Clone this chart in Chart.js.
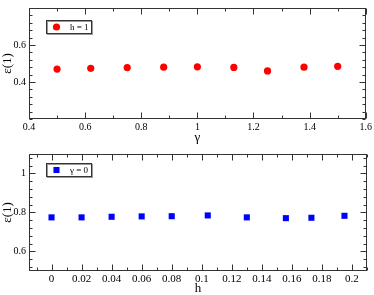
<!DOCTYPE html>
<html>
<head>
<meta charset="utf-8">
<script src="https://cdn.jsdelivr.net/npm/chart.js@4"></script>
<style>
  html, body { margin: 0; padding: 0; background: #fff; }
  body { width: 374px; height: 295px; position: relative; overflow: hidden; }
  .box { position: absolute; left: 0; width: 374px; }
  #top { top: -1px; height: 146px; }
  #bot { top: 145px; height: 150px; }
</style>
</head>
<body>
<div class="box" id="top"><canvas id="c1"></canvas></div>
<div class="box" id="bot"><canvas id="c2"></canvas></div>
<script>
// top panel: eps(1) vs gamma at h = 1
const gammaVals = [0.5, 0.62, 0.75, 0.88, 1.0, 1.13, 1.25, 1.38, 1.5];
const epsGamma = [0.470, 0.474, 0.478, 0.480, 0.482, 0.479, 0.460, 0.480, 0.485];
const gammaTicks = [0.4, 0.6, 0.8, 1.0, 1.2, 1.4, 1.6];
const epsTicksTop = [0.4, 0.6];

// bottom panel: eps(1) vs h at gamma = 0
const hVals = [0, 0.02, 0.04, 0.06, 0.08, 0.104, 0.13, 0.156, 0.173, 0.195];
const epsH = [0.775, 0.775, 0.778, 0.780, 0.781, 0.785, 0.775, 0.771, 0.773, 0.783];
const hTicks = [0, 0.02, 0.04, 0.06, 0.08, 0.1, 0.12, 0.14, 0.16, 0.18, 0.2];
const epsTicksBot = [0.6, 0.8, 1.0];

const serif = "'Liberation Serif', 'DejaVu Serif', serif";
const axisCol = '#333';

function fmt(v) {
    return String(Math.round(v * 1000) / 1000);
}

// frame with inward major/minor ticks on all four sides
const frameTicks = {
    id: 'frameTicks',
    afterDraw(chart, args, opts) {
        const { ctx, chartArea: a, scales } = chart;
        const x = scales.x, y = scales.y;
        const L = Math.round(a.left) + 0.5, R = Math.round(a.right) - 0.5;
        const T = Math.round(a.top) + 0.5, B = Math.round(a.bottom) - 0.5;
        ctx.save();
        ctx.strokeStyle = axisCol;
        ctx.lineWidth = 1;
        ctx.strokeRect(L, T, R - L, B - T);
        ctx.beginPath();
        const isMajor = (list, v) => list.some(t => Math.abs(t.value - v) < 1e-9);
        // x ticks
        for (let v = Math.ceil(x.min / opts.xMinor - 1e-9) * opts.xMinor; v <= x.max + 1e-9; v += opts.xMinor) {
            const px = Math.round(x.getPixelForValue(v)) + 0.5;
            const len = isMajor(x.ticks, v) ? 6 : 3;
            ctx.moveTo(px, B); ctx.lineTo(px, B - len);
            ctx.moveTo(px, T); ctx.lineTo(px, T + len);
        }
        // y ticks
        for (let v = Math.ceil(y.min / opts.yMinor - 1e-9) * opts.yMinor; v <= y.max + 1e-9; v += opts.yMinor) {
            const py = Math.round(y.getPixelForValue(v)) + 0.5;
            const len = isMajor(y.ticks, v) ? 6 : 3;
            ctx.moveTo(L, py); ctx.lineTo(L + len, py);
            ctx.moveTo(R, py); ctx.lineTo(R - len, py);
        }
        ctx.stroke();
        ctx.restore();
    }
};

// small boxed legend inside the plot area
const boxLegend = {
    id: 'boxLegend',
    afterDraw(chart, args, opts) {
        const { ctx, chartArea: a } = chart;
        const ds = chart.data.datasets[0];
        const bx = a.left + opts.dx, by = a.top + opts.dy;
        const w = opts.w, h = opts.h;
        ctx.save();
        ctx.fillStyle = '#fff';
        ctx.fillRect(bx, by, w, h);
        ctx.strokeStyle = '#999';
        ctx.lineWidth = 1;
        ctx.strokeRect(bx + 1.5, by + 1.5, w, h);
        ctx.strokeStyle = axisCol;
        ctx.strokeRect(bx + 0.5, by + 0.5, w, h);
        Chart.helpers.drawPoint(ctx, {
            pointStyle: ds.pointStyle,
            radius: ds.pointRadius,
            borderWidth: 0
        }, bx + 10.5, by + h / 2 + 0.5);
        ctx.fillStyle = ds.backgroundColor;
        ctx.fill();
        ctx.fillStyle = '#000';
        ctx.font = '9px ' + serif;
        ctx.textBaseline = 'middle';
        ctx.fillText(ds.label, bx + 24, by + h / 2 + 1);
        ctx.restore();
    }
};

function makeChart(id, o) {
    return new Chart(document.getElementById(id), {
        type: 'scatter',
        data: {
            datasets: [{
                label: o.label,
                data: o.xs.map((v, i) => ({ x: v, y: o.ys[i] })),
                pointStyle: o.style,
                pointRadius: o.radius,
                pointHoverRadius: o.radius,
                backgroundColor: o.color,
                borderColor: o.color,
                borderWidth: 0
            }]
        },
        options: {
            responsive: true,
            maintainAspectRatio: false,
            animation: false,
            layout: { padding: { top: o.padTop, right: 7, left: 0, bottom: 0 } },
            plugins: {
                legend: { display: false },
                tooltip: { enabled: false },
                frameTicks: { xMinor: o.xMinor, yMinor: o.yMinor },
                boxLegend: { dx: 17, dy: o.legDy, w: 45, h: 13 }
            },
            scales: {
                x: {
                    type: 'linear',
                    min: o.xMin, max: o.xMax,
                    afterBuildTicks: s => { s.ticks = o.xTicks.map(v => ({ value: v })); },
                    afterFit: s => { s.height = o.xHeight; },
                    grid: { display: false, drawTicks: false },
                    border: { display: false },
                    ticks: {
                        autoSkip: false, maxRotation: 0, padding: 2,
                        color: '#000', font: { family: serif, size: o.xFont },
                        callback: v => fmt(v)
                    },
                    title: {
                        display: true, text: o.xTitle, color: '#000',
                        font: { family: serif, size: 13 },
                        padding: { top: 0, bottom: o.xTitlePad }
                    }
                },
                y: {
                    type: 'linear',
                    min: o.yMin, max: o.yMax,
                    afterBuildTicks: s => { s.ticks = o.yTicks.map(v => ({ value: v })); },
                    afterFit: s => { s.width = 29; },
                    grid: { display: false, drawTicks: false },
                    border: { display: false },
                    ticks: {
                        padding: 3,
                        color: '#000', font: { family: serif, size: 10 },
                        callback: v => fmt(v)
                    },
                    title: {
                        display: true, text: 'ε(1)', color: '#000',
                        font: { family: serif, size: 13 },
                        padding: { top: 0, bottom: 0 }
                    }
                }
            }
        },
        plugins: [frameTicks, boxLegend]
    });
}

makeChart('c1', {
    label: 'h = 1', xs: gammaVals, ys: epsGamma,
    style: 'circle', radius: 3.6, color: '#ff0000',
    xMin: 0.4, xMax: 1.6, yMin: 0.2, yMax: 0.8,
    xTicks: gammaTicks, yTicks: epsTicksTop,
    xMinor: 0.1, yMinor: 0.04, xFont: 10,
    xTitle: 'γ', xTitlePad: 0, xHeight: 26, padTop: 0, legDy: 12
});

makeChart('c2', {
    label: 'γ = 0', xs: hVals, ys: epsH,
    style: 'rect', radius: 4.3, color: '#0000ff',
    xMin: -0.015, xMax: 0.21, yMin: 0.5, yMax: 1.1,
    xTicks: hTicks, yTicks: epsTicksBot,
    xMinor: 0.01, yMinor: 0.04, xFont: 11,
    xTitle: 'h', xTitlePad: -1, xHeight: 24, padTop: 6, legDy: 9
});
</script>
</body>
</html>
